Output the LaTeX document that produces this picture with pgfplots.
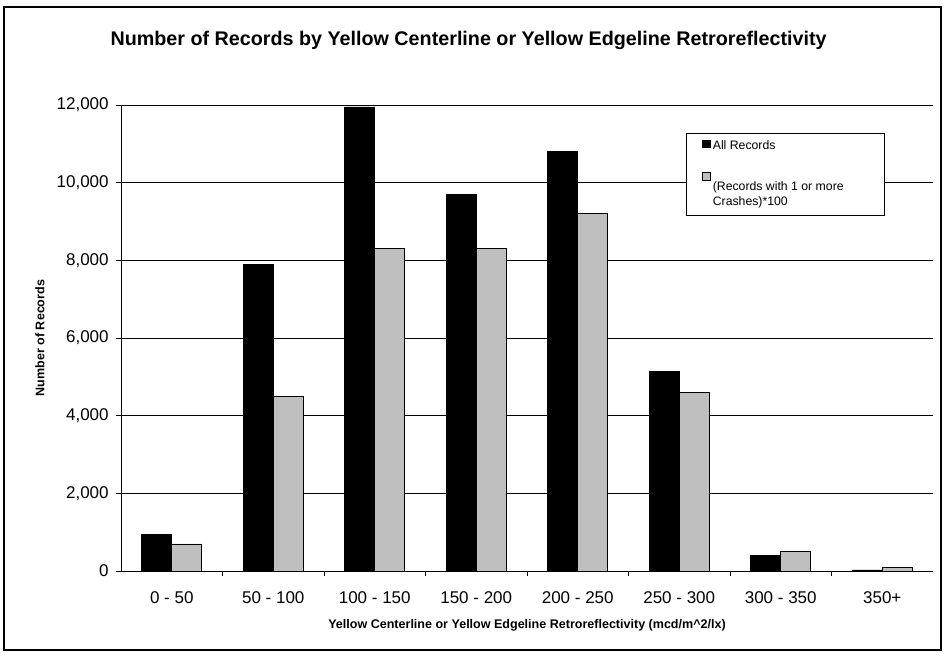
\documentclass[border=0pt]{standalone}
\usepackage{pgfplots}
\pgfplotsset{compat=1.18}
\usepackage{fontspec}
\setmainfont{Liberation Sans}
\begin{document}
\begin{tikzpicture}
\useasboundingbox (0pt,0pt) rectangle (708.75pt,492pt);
\draw[line width=0.9pt] (3pt,4.5pt) rectangle (705.75pt,486.75pt);
\node[font=\bfseries\fontsize{14.8}{17}\selectfont] at (351.4pt,462pt) {Number of Records by Yellow Centerline or Yellow Edgeline Retroreflectivity};
\begin{axis}[
  at={(90.75pt,63.75pt)}, anchor=south west,
  scale only axis, width=609pt, height=349.5pt,
  xmin=-0.5, xmax=7.5, ymin=0, ymax=12000,
  ybar=0pt, bar width=22.5pt,
  axis lines=left, axis line style={-, line width=0.6pt},
  xtick={0,...,7},
  xticklabels={0 - 50, 50 - 100, 100 - 150, 150 - 200, 200 - 250, 250 - 300, 300 - 350, 350+},
  major x tick style={draw=none},
  minor xtick={0.5,1.5,...,6.5},
  minor x tick style={line width=0.6pt, black},
  ytick={0,2000,...,12000},
  tick align=outside, major tick length=3.75pt, minor tick length=3.75pt,
  major y tick style={line width=0.6pt, black},
  ymajorgrids, grid style={black, line width=0.5pt},
  scaled y ticks=false,
  /pgf/number format/.cd, 1000 sep={,}, assume math mode=true, /pgfplots/.cd,
  tick label style={font=\fontsize{12.75}{14}\selectfont},
  xticklabel style={yshift=-8pt},
  yticklabel style={xshift=-2pt},
  xlabel={\bfseries Yellow Centerline or Yellow Edgeline Retroreflectivity (mcd/m\textasciicircum2/lx)},
  xlabel style={font=\fontsize{9.4}{11}\selectfont, at={(axis description cs:0.5,0)}, anchor=center, yshift=-40.5pt},
  ylabel={\bfseries Number of Records},
  ylabel style={font=\fontsize{9.4}{11}\selectfont, at={(axis description cs:-0.10,0.5)}, anchor=center},
  legend style={at={(0.696,0.940)}, anchor=north west, draw=black, line width=0.6pt,
    font=\fontsize{9.2}{11.4}\selectfont, row sep=13.5pt,
    inner xsep=0pt, inner ysep=3.5pt},
  legend cell align=left,
  legend image code/.code={\path[draw=none,fill=none] (0pt,0pt) -- (17.5pt,0pt); \draw[#1, line width=0.4pt] (12pt,-1pt) rectangle (17.5pt,4.5pt);},
]
\addplot[fill=black, draw=black] coordinates {(0,950) (1,7900) (2,11950) (3,9700) (4,10800) (5,5150) (6,400) (7,30)};
\addplot[fill=black!25, draw=black, legend image code/.code={\path[draw=none,fill=none] (0pt,0pt) -- (17.5pt,0pt); \draw[fill=black!25, draw=black, line width=0.4pt] (12pt,10.4pt) rectangle (17.5pt,15.9pt);}] coordinates {(0,700) (1,4500) (2,8300) (3,8300) (4,9200) (5,4600) (6,500) (7,100)};
\legend{\makebox[127pt][l]{All Records}, {\begin{tabular}[b]{@{}l@{}}(Records with 1 or more\\Crashes)*100\end{tabular}}}
\end{axis}
\end{tikzpicture}
\end{document}
